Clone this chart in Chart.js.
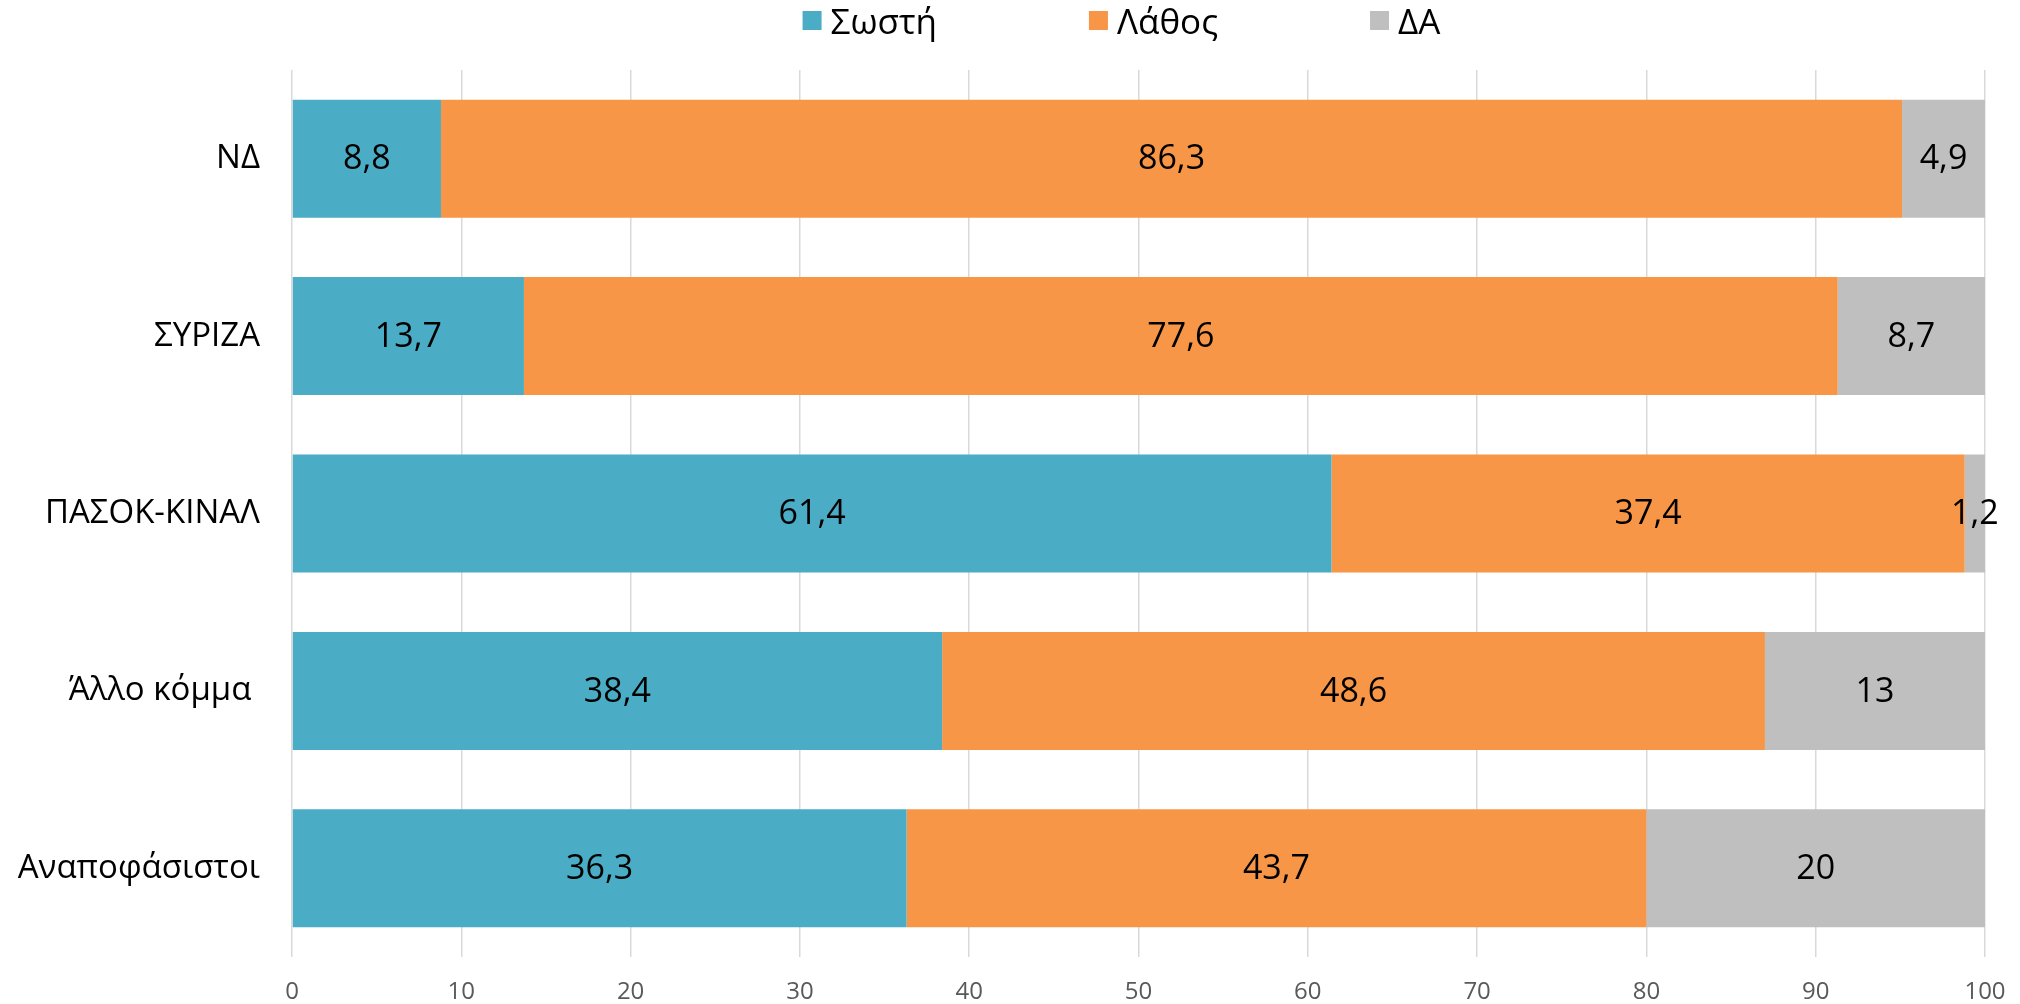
<!DOCTYPE html>
<html>
<head>
<meta charset="utf-8">
<script src="https://cdn.jsdelivr.net/npm/chart.js@4/dist/chart.umd.min.js"></script>
<style>
  html, body { margin: 0; padding: 0; background: #fff; }
  #wrap { width: 2020px; height: 1004px; }
</style>
</head>
<body>
<div id="wrap"><canvas id="bar-chart"></canvas></div>
<script>
// data
var parties = ['ΝΔ', 'ΣΥΡΙΖΑ', 'ΠΑΣΟΚ-ΚΙΝΑΛ', 'Άλλο κόμμα ', 'Αναποφάσιστοι'];
var swsti = [8.8, 13.7, 61.4, 38.4, 36.3];
var lathos = [86.3, 77.6, 37.4, 48.6, 43.7];
var da = [4.9, 8.7, 1.2, 13, 20];
var seriesNames = ['Σωστή', 'Λάθος', 'ΔΑ'];
var xMin = 0, xMax = 100, xStep = 10;

var FONT = '"Open Sans", "Noto Sans", sans-serif';

// value labels in the middle of each segment
var valueLabels = {
  id: 'valueLabels',
  afterDatasetsDraw: function(chart) {
    var ctx = chart.ctx;
    ctx.save();
    ctx.font = '34px ' + FONT;
    ctx.fillStyle = '#000';
    ctx.textAlign = 'center';
    ctx.textBaseline = 'middle';
    chart.data.datasets.forEach(function(ds, i) {
      chart.getDatasetMeta(i).data.forEach(function(bar, j) {
        var p = bar.getProps(['x', 'y', 'base'], true);
        var txt = String(ds.data[j]).replace('.', ',');
        ctx.fillText(txt, (p.x + p.base) / 2, p.y + 1);
      });
    });
    ctx.restore();
  }
};

// legend on top, laid out like the Excel one
var topLegend = {
  id: 'topLegend',
  afterDraw: function(chart) {
    var ctx = chart.ctx, area = chart.chartArea;
    var ds = chart.data.datasets;
    var box = 19, gap = 9, space = 152;
    ctx.save();
    ctx.font = '35px ' + FONT;
    var widths = ds.map(function(d) { return box + gap + ctx.measureText(d.label).width; });
    var total = widths.reduce(function(a, b) { return a + b; }, 0) + space * (ds.length - 1);
    var x = (area.left + area.right) / 2 - 17 - total / 2;
    ctx.textBaseline = 'middle';
    ds.forEach(function(d, i) {
      ctx.fillStyle = d.backgroundColor;
      ctx.fillRect(x, 11, box, box);
      ctx.fillStyle = '#000';
      ctx.fillText(d.label, x + box + gap, 24);
      x += widths[i] + space;
    });
    ctx.restore();
  }
};

new Chart(document.getElementById('bar-chart'), {
  type: 'bar',
  data: {
    labels: parties,
    datasets: [
      { label: seriesNames[0], data: swsti, backgroundColor: '#4BACC6' },
      { label: seriesNames[1], data: lathos, backgroundColor: '#F79646' },
      { label: seriesNames[2], data: da, backgroundColor: '#BFBFBF' }
    ]
  },
  options: {
    indexAxis: 'y',
    responsive: true,
    maintainAspectRatio: false,
    animation: false,
    devicePixelRatio: 1,
    layout: { padding: { top: 70, right: 35, bottom: 0, left: 0 } },
    datasets: { bar: { barPercentage: 0.665, categoryPercentage: 1, borderWidth: 0 } },
    plugins: {
      legend: { display: false },
      tooltip: { enabled: false }
    },
    scales: {
      x: {
        stacked: true,
        min: xMin,
        max: xMax,
        ticks: { stepSize: xStep, padding: 23, color: '#595959', font: { family: FONT, size: 24, lineHeight: 1 } },
        grid: { color: '#D9D9D9', lineWidth: 1.5, drawTicks: false },
        border: { display: false },
        afterFit: function(scale) { scale.paddingRight = 0; scale.paddingLeft = 0; scale.height = 47; }
      },
      y: {
        stacked: true,
        ticks: { padding: 32, color: '#000', font: { family: FONT, size: 33 } },
        grid: { display: false, drawTicks: false },
        border: { display: false },
        afterFit: function(scale) { scale.width = 292; scale.paddingTop = 0; scale.paddingBottom = 0; }
      }
    }
  },
  plugins: [valueLabels, topLegend]
});
</script>
</body>
</html>
